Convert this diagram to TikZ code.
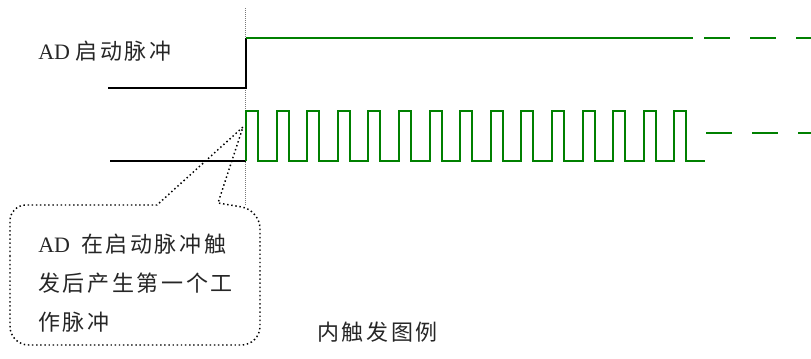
\documentclass[tikz,border=0pt]{standalone}
\usepackage{fontspec}
\setmainfont{Liberation Serif}
\newfontfamily\cjk[LetterSpace=12]{Noto Sans CJK SC}
\usetikzlibrary{positioning,calc}
\definecolor{wavegreen}{RGB}{0,128,0}
\definecolor{guidegray}{RGB}{120,120,120}

\begin{document}
\begin{tikzpicture}[
  x=0.75pt,y=-0.75pt,
  font=\fontsize{16.5}{29}\selectfont,
  label/.style={anchor=west,inner sep=0pt,align=left,text=black!85},
  level/.style={draw=black,line width=1.4pt},
  pulse/.style={draw=wavegreen,line width=1.4pt},
  tail/.style={pulse,dash pattern=on 19.5pt off 15pt},
  guide/.style={draw=guidegray,line width=0.5pt,densely dotted},
  callout/.style={draw=black,line width=1.1pt,dotted}
]
\useasboundingbox (0,0) rectangle (811,358);
% trigger edge
\coordinate (edge) at (246,38);
\draw[guide] (245,8) -- (245,205);
\node[label] (startlbl) at (38,51) {AD \cjk 启动脉冲};
\draw[level] (108,88) -- (246,88) -- (edge);
\draw[pulse] (edge) -- (693,38);
\draw[tail] (704,38) -- (811,38);
% working pulses
\coordinate (train) at (246,161);
\draw[level] (110,161) -- (train);
\draw[pulse] (train) \foreach \i in {0,...,14}{ -- ++(0,-50) -- ++(12,0) -- ++(0,50) -- ++(18.6,0)};
\draw[tail] (706,133) -- (811,133);
% note
\coordinate (tip) at (243,127);
\node[label] (note) at (38,283) {AD\ \ {\cjk 在启动脉冲触}\\{\cjk 发后产生第一个工}\\{\cjk 作脉冲}};
\draw[callout] (10,275) [rounded corners=12pt] -- (10,205) [sharp corners] -- (157,205) -- (tip) -- (218,203)
  [rounded corners=14pt] -- (260,210) -- (260,345) -- (10,345) -- cycle;
\node[label] (caption) at (317,332) {\cjk 内触发图例};
\end{tikzpicture}
\end{document}
